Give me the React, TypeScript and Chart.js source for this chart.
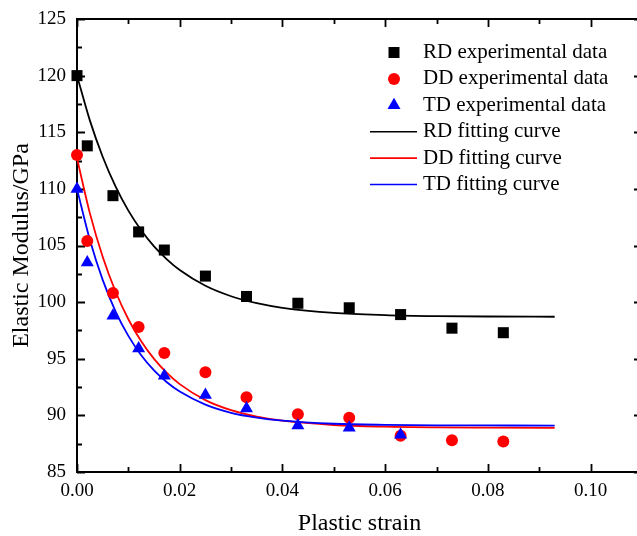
import React, { useEffect, useRef } from "react";
import { Chart, registerables } from "chart.js";

Chart.register(...registerables);

// ---- data ----
const strainExp = [0, 0.002, 0.007, 0.012, 0.017, 0.025, 0.033, 0.043, 0.053, 0.063, 0.073, 0.083];
const rdExp = [120.0, 113.8, 109.4, 106.2, 104.6, 102.3, 100.5, 99.9, 99.5, 98.9, 97.7, 97.3];
const ddExp = [113.0, 105.4, 100.8, 97.8, 95.5, 93.8, 91.6, 90.1, 89.8, 88.2, 87.8, 87.7];
const tdStrain = [0, 0.002, 0.007, 0.012, 0.017, 0.025, 0.033, 0.043, 0.053, 0.063];
const tdExp = [110.0, 103.5, 98.8, 95.9, 93.5, 91.8, 90.6, 89.1, 88.9, 88.3];

const strainFit = [0, 0.0025, 0.005, 0.0075, 0.01, 0.0125, 0.015, 0.0175, 0.02, 0.025, 0.03, 0.035, 0.04, 0.05, 0.06, 0.07, 0.08, 0.093];
const rdFit = [120.0, 116.05, 112.84, 110.22, 108.08, 106.35, 104.93, 103.78, 102.83, 101.44, 100.52, 99.91, 99.5, 99.05, 98.86, 98.77, 98.73, 98.71];
const ddFit = [112.7, 107.86, 104.01, 100.94, 98.49, 96.54, 94.99, 93.75, 92.76, 91.35, 90.46, 89.89, 89.53, 89.15, 89.0, 88.94, 88.92, 88.9];
const tdFit = [110.0, 105.5, 101.96, 99.19, 97.02, 95.31, 93.97, 92.92, 92.1, 90.95, 90.23, 89.8, 89.53, 89.26, 89.16, 89.12, 89.11, 89.1];

const legendLabels = [
  "RD experimental data",
  "DD experimental data",
  "TD experimental data",
  "RD fitting curve",
  "DD fitting curve",
  "TD fitting curve",
];

const xTitle = "Plastic strain";
const yTitle = "Elastic Modulus/GPa";
const xMin = 0, xMax = 0.11, xStep = 0.02, xMinor = 0.01;
const yMin = 85, yMax = 125, yStep = 5, yMinor = 2.5;

const FONT = "'Liberation Serif', 'Times New Roman', serif";

const zip = (xs: number[], ys: number[]) => ys.map((y, i) => ({ x: xs[i], y }));

export default function App() {
  const ref = useRef<HTMLCanvasElement>(null);

  useEffect(() => {
    document.body.style.overflow = "hidden";
    const canvas = ref.current;
    if (!canvas) return;

    const framePlugin = {
      id: "frameTicks",
      beforeDatasetsDraw(chart: any) {
        const { ctx, chartArea: a, scales } = chart;
        const xs = scales.x, ys = scales.y;
        ctx.save();
        ctx.strokeStyle = "#000";
        ctx.lineWidth = 2;
        ctx.beginPath();
        ctx.rect(a.left, a.top, a.right - a.left, a.bottom - a.top);
        ctx.stroke();
        ctx.lineWidth = 1.8;
        ctx.beginPath();
        const nx = Math.round((xMax - xMin) / xMinor);
        for (let i = 0; i <= nx; i++) {
          const v = xMin + i * xMinor;
          const px = Math.round(xs.getPixelForValue(v)) + 0.5;
          const len = i % 2 === 0 ? 8 : 5;
          ctx.moveTo(px, a.bottom);
          ctx.lineTo(px, a.bottom - len);
          ctx.moveTo(px, a.top);
          ctx.lineTo(px, a.top + len);
        }
        const ny = Math.round((yMax - yMin) / yMinor);
        for (let i = 0; i <= ny; i++) {
          const v = yMin + i * yMinor;
          const py = Math.round(ys.getPixelForValue(v)) + 0.5;
          const len = i % 2 === 0 ? 8 : 5;
          ctx.moveTo(a.left, py);
          ctx.lineTo(a.left + len, py);
          ctx.moveTo(a.right, py);
          ctx.lineTo(a.right - len, py);
        }
        ctx.stroke();
        ctx.restore();
      },
      afterDraw(chart: any) {
        const { ctx } = chart;
        const ds = chart.data.datasets;
        ctx.save();
        ctx.font = `21px ${FONT}`;
        ctx.textBaseline = "middle";
        ctx.textAlign = "left";
        const top = 52.5, gap = 26.4, mx = 394, tx = 423;
        legendLabels.forEach((label, i) => {
          const y = top + i * gap;
          const d = ds[i];
          if (i < 3) {
            ctx.fillStyle = d.backgroundColor;
            ctx.beginPath();
            if (i === 0) {
              ctx.rect(mx - 5.5, y - 5.5, 11, 11);
            } else if (i === 1) {
              ctx.arc(mx, y, 6, 0, Math.PI * 2);
            } else {
              const r = 7.5;
              ctx.moveTo(mx, y - r);
              ctx.lineTo(mx + 0.866 * r, y + 0.5 * r);
              ctx.lineTo(mx - 0.866 * r, y + 0.5 * r);
              ctx.closePath();
            }
            ctx.fill();
          } else {
            ctx.strokeStyle = d.borderColor;
            ctx.lineWidth = 1.6;
            ctx.beginPath();
            ctx.moveTo(370, y);
            ctx.lineTo(417, y);
            ctx.stroke();
          }
          ctx.fillStyle = "#000";
          ctx.fillText(label, tx, y);
        });
        ctx.restore();
      },
    };

    const chart = new Chart(canvas, {
      type: "scatter",
      data: {
        datasets: [
          {
            label: legendLabels[0],
            data: zip(strainExp, rdExp),
            backgroundColor: "#000000",
            borderColor: "#000000",
            pointStyle: "rect",
            pointRadius: 7.8,
            pointBorderWidth: 0,
            showLine: false,
            clip: false,
            order: 3,
          },
          {
            label: legendLabels[1],
            data: zip(strainExp, ddExp),
            backgroundColor: "#ff0000",
            borderColor: "#ff0000",
            pointStyle: "circle",
            pointRadius: 6,
            pointBorderWidth: 0,
            showLine: false,
            clip: false,
            order: 2,
          },
          {
            label: legendLabels[2],
            data: zip(tdStrain, tdExp),
            backgroundColor: "#0000ff",
            borderColor: "#0000ff",
            pointStyle: "triangle",
            pointRadius: 7.5,
            pointBorderWidth: 0,
            showLine: false,
            clip: false,
            order: 1,
          },
          {
            label: legendLabels[3],
            data: zip(strainFit, rdFit),
            borderColor: "#000000",
            backgroundColor: "#000000",
            borderWidth: 1.8,
            pointRadius: 0,
            showLine: true,
            cubicInterpolationMode: "monotone",
            order: 6,
          },
          {
            label: legendLabels[4],
            data: zip(strainFit, ddFit),
            borderColor: "#ff0000",
            backgroundColor: "#ff0000",
            borderWidth: 1.8,
            pointRadius: 0,
            showLine: true,
            cubicInterpolationMode: "monotone",
            order: 5,
          },
          {
            label: legendLabels[5],
            data: zip(strainFit, tdFit),
            borderColor: "#0000ff",
            backgroundColor: "#0000ff",
            borderWidth: 1.8,
            pointRadius: 0,
            showLine: true,
            cubicInterpolationMode: "monotone",
            order: 4,
          },
        ] as any,
      },
      options: {
        responsive: false,
        animation: false,
        devicePixelRatio: 1,
        layout: { padding: { left: 0, top: 19, right: 8, bottom: 0 } },
        plugins: {
          legend: { display: false },
          tooltip: { enabled: false },
        },
        scales: {
          x: {
            type: "linear",
            min: xMin,
            max: xMax,
            grid: { display: false },
            border: { display: false },
            ticks: {
              stepSize: xStep,
              includeBounds: false,
              padding: 0,
              color: "#000",
              font: { family: FONT, size: 19 },
              callback: (v: any) => Number(v).toFixed(2),
            },
            title: {
              display: true,
              text: xTitle,
              color: "#000",
              font: { family: FONT, size: 24, lineHeight: 1.0 },
              padding: { top: 0, bottom: 0 },
            },
            afterFit: (s: any) => {
              s.height = 64;
            },
          },
          y: {
            type: "linear",
            min: yMin,
            max: yMax,
            grid: { display: false },
            border: { display: false },
            ticks: {
              stepSize: yStep,
              padding: 3,
              color: "#000",
              font: { family: FONT, size: 19 },
            },
            title: {
              display: true,
              text: yTitle,
              color: "#000",
              font: { family: FONT, size: 24 },
              padding: { top: 7, bottom: 0 },
            },
            afterFit: (s: any) => {
              s.width = 77;
            },
          },
        },
      } as any,
      plugins: [framePlugin],
    });

    return () => chart.destroy();
  }, []);

  return (
    <div style={{ position: "fixed", left: 0, top: 0, width: 650, height: 536, background: "#fff" }}>
      <canvas ref={ref} width={650} height={536} style={{ display: "block", width: 650, height: 536 }} />
    </div>
  );
}
